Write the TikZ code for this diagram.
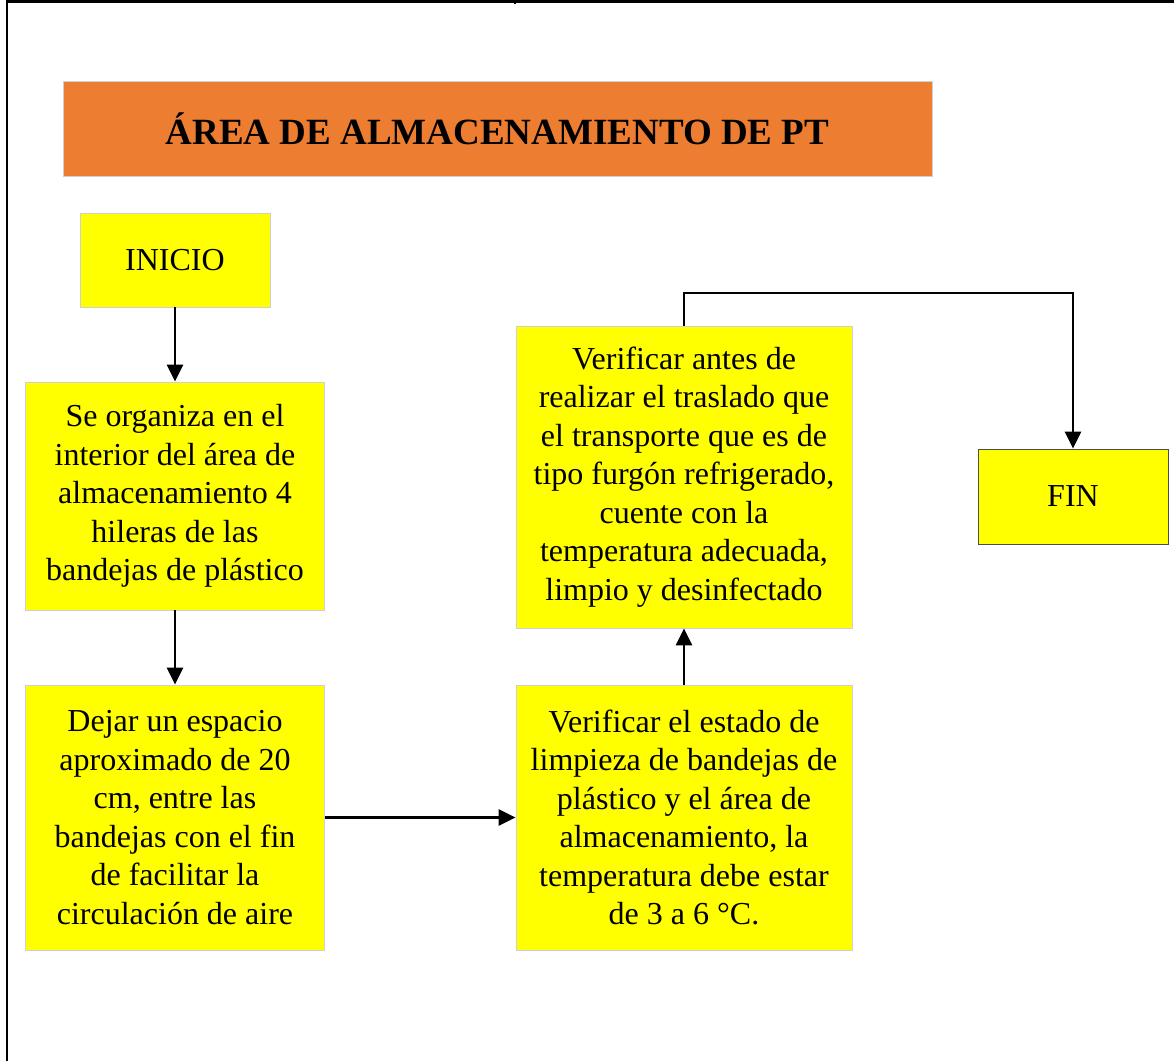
\documentclass[tikz,border=0pt]{standalone}
\usepackage{fontspec}
\setmainfont{Liberation Serif}
\usetikzlibrary{shapes,arrows.meta}
\definecolor{naranja}{HTML}{ED7D31}
\definecolor{amarillo}{RGB}{255,255,0}
\definecolor{borde}{HTML}{D0D0D0}
\tikzstyle{titulo} = [draw=borde, fill=naranja, inner sep=0pt, font={\fontsize{18.5}{22}\selectfont\bfseries}]
\tikzstyle{block} = [draw=borde, fill=amarillo, rectangle, inner sep=0pt, align=center, font={\fontsize{16}{19.25}\selectfont}]
\tikzstyle{flecha} = [line width=1.2pt, -{Triangle[length=8.5pt,width=8pt]}]

\begin{document}
\begin{tikzpicture}[x=0.5pt,y=-0.5pt]
	\useasboundingbox (0,0) rectangle (1174,1061);
	% page frame
	\draw[line width=1.5pt] (6,1) -- (1174,1);
	\draw[line width=1pt] (7,0) -- (7,1061);
	\draw[line width=0.6pt] (515,0) -- (515,4);

	% put the nodes where we want them
	\node [titulo, minimum width=434.5pt, minimum height=47.5pt] (title) at (497.5,128.5) {ÁREA DE ALMACENAMIENTO DE PT};
	\node [block, minimum width=95pt, minimum height=47pt] (inicio) at (175,260) {INICIO};
	\node [block, minimum width=149.5pt, minimum height=114pt] (organiza) at (175,496) {Se organiza en el\\interior del área de\\almacenamiento 4\\hileras de las\\bandejas de plástico};
	\node [block, minimum width=149.5pt, minimum height=132.5pt] (espacio) at (175,817.5) {Dejar un espacio\\aproximado de 20\\cm, entre las\\bandejas con el fin\\de facilitar la\\circulación de aire};
	\node [block, minimum width=168pt, minimum height=132.5pt] (limpieza) at (684,817.5) {Verificar el estado de\\limpieza de bandejas de\\plástico y el área de\\almacenamiento, la\\temperatura debe estar\\de 3 a 6 °C.};
	\node [block, minimum width=168pt, minimum height=151pt] (traslado) at (684,477) {Verificar antes de\\realizar el traslado que\\el transporte que es de\\tipo furgón refrigerado,\\cuente con la\\temperatura adecuada,\\limpio y desinfectado};
	\node [block, draw=black!70, minimum width=95pt, minimum height=47.5pt] (fin) at (1073,496.5) {FIN};
	\coordinate (giro) at (684,293);

	% draw the connectors
	\draw [flecha] (inicio) -- (organiza);
	\draw [flecha] (organiza) -- (espacio);
	\draw [flecha] (espacio) -- (limpieza);
	\draw [flecha] (limpieza) -- (traslado);
	\draw [flecha] (traslado.north) -- (giro) -| (fin.north);

\end{tikzpicture}
\end{document}
